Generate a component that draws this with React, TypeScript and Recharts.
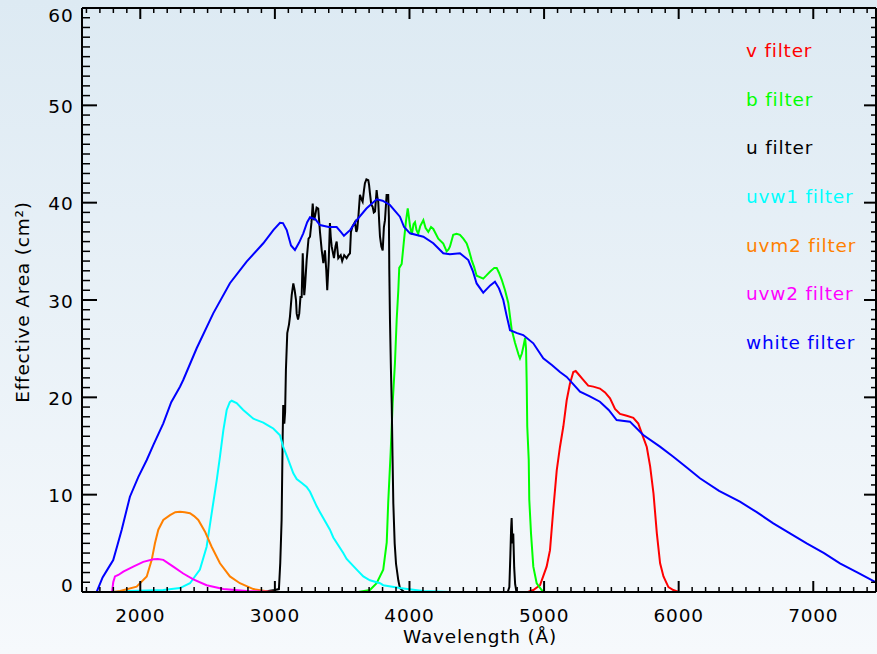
import React from 'react';
import { LineChart, Line, XAxis, YAxis } from 'recharts';

const W = 877;
const H = 654;
const FONT = '"DejaVu Sans", sans-serif';

type Pt = [number, number];

// Effective area (cm^2) versus wavelength (Å) for each filter
const vFilter: Pt[] = [
  [4880, 0], [4920, 0.2], [4970, 0.7], [5019, 2.6], [5044, 4.3], [5068, 8.4], [5094, 12.5],
  [5118, 14.9], [5143, 17.0], [5168, 19.7], [5192, 21.4], [5217, 22.6], [5235, 22.7], [5254, 22.4],
  [5291, 21.8], [5328, 21.2], [5366, 21.1], [5415, 20.9], [5453, 20.5], [5490, 19.9], [5527, 18.8],
  [5564, 18.3], [5614, 18.1], [5663, 17.9], [5700, 17.3], [5726, 16.3], [5763, 14.9], [5788, 12.9],
  [5813, 10.1], [5838, 6.0], [5862, 2.95], [5887, 1.6], [5924, 0.5], [5960, 0.2], [6000, 0], [6050, 0],
];

const bFilter: Pt[] = [
  [3030, 0], [3620, 0], [3706, 0.2], [3756, 0.9], [3805, 2.3], [3831, 5.1], [3842, 9.2], [3860, 14.3],
  [3875, 19.4], [3892, 23.5], [3905, 28], [3917, 31], [3924, 33.3], [3942, 33.7], [3959, 36.1],
  [3974, 38.1], [3987, 39.4], [3995, 38.6], [4004, 37.6], [4017, 36.7], [4030, 37.8], [4041, 38.0],
  [4052, 37.2], [4065, 36.8], [4080, 37.6], [4103, 38.2], [4120, 37.4], [4140, 37.0], [4160, 37.5],
  [4177, 37.3], [4214, 36.3], [4251, 35.8], [4276, 35.0], [4290, 35.2], [4301, 35.5], [4325, 36.7],
  [4350, 36.8], [4375, 36.7], [4400, 36.3], [4425, 35.8], [4440, 35.2], [4462, 34.1], [4480, 33.4],
  [4499, 32.5], [4548, 32.2], [4570, 32.5], [4598, 32.9], [4630, 33.3], [4648, 33.3], [4665, 32.8],
  [4685, 32.1], [4710, 31], [4734, 29.7], [4759, 27.0], [4784, 25.6], [4810, 24.4], [4821, 24.0],
  [4835, 24.5], [4846, 25.2], [4859, 26.1], [4866, 25], [4871, 21.4], [4875, 17.0], [4886, 13.6],
  [4890, 9.5], [4903, 6.0], [4920, 2.6], [4945, 0.9], [4982, 0.2], [5000, 0], [5050, 0],
];

const uFilter: Pt[] = [
  [2900, 0], [3000, 0.2], [3030, 0.3], [3040, 3], [3050, 7.4], [3058, 16], [3062, 19.2], [3070, 17.3],
  [3076, 18.5], [3082, 22.8], [3092, 26.6], [3105, 27.5], [3112, 28.3], [3125, 30.5], [3137, 31.7],
  [3147, 31.0], [3157, 30.0], [3162, 28.6], [3172, 28.0], [3181, 28.6], [3190, 30.3], [3199, 30.3],
  [3207, 34.8], [3211, 33.0], [3218, 30.5], [3224, 31.4], [3236, 34.1], [3250, 36.3], [3261, 36.5],
  [3272, 38.0], [3281, 39.9], [3290, 38.2], [3298, 38.6], [3310, 39.5], [3322, 39.4], [3335, 37.0],
  [3348, 35.1], [3360, 33.8], [3372, 35.1], [3382, 33.0], [3389, 31.0], [3400, 34.0], [3409, 37.9],
  [3415, 36.5], [3422, 35.5], [3439, 34.3], [3450, 35.5], [3459, 36.0], [3471, 34.3], [3489, 34.6],
  [3500, 34.0], [3515, 34.6], [3533, 34.3], [3545, 34.6], [3558, 34.8], [3565, 37.0], [3575, 37.5],
  [3595, 38.0], [3605, 37.0], [3612, 37.3], [3620, 38.5], [3632, 40.8], [3642, 40.4], [3652, 40.1],
  [3662, 41.3], [3669, 42.0], [3680, 42.4], [3694, 42.3], [3700, 41.8], [3706, 41.0], [3716, 39.8],
  [3726, 39.6], [3735, 39.0], [3744, 39.1], [3756, 41.3], [3762, 40.5], [3768, 40.1], [3775, 38.0],
  [3781, 36.5], [3791, 35.5], [3801, 35.1], [3810, 37.5], [3818, 38.2], [3830, 40.8], [3842, 40.8],
  [3847, 38.5], [3850, 33.1], [3855, 28.0], [3862, 23], [3868, 19.4], [3874, 14], [3880, 9.1],
  [3890, 5], [3900, 2.9], [3917, 1.2], [3929, 0.4], [3960, 0], [4730, 0], [4742, 0.5], [4750, 4.0],
  [4755, 6.5], [4759, 7.6], [4765, 5.0], [4771, 6.0], [4778, 2.5], [4785, 0.8], [4795, 0], [5000, 0],
];

const uvw1Filter: Pt[] = [
  [1800, 0], [1923, 0.1], [2171, 0.2], [2295, 0.4], [2369, 0.9], [2443, 2.3], [2493, 4.65],
  [2530, 8.05], [2568, 11.5], [2592, 13.9], [2617, 16.6], [2642, 18.7], [2665, 19.5], [2679, 19.65],
  [2716, 19.4], [2765, 18.7], [2840, 17.8], [2914, 17.4], [2964, 17.0], [2988, 16.8], [3038, 16.1],
  [3062, 14.9], [3088, 14.0], [3137, 12.2], [3162, 11.6], [3200, 11.2], [3236, 10.8], [3261, 10.3],
  [3311, 8.8], [3335, 8.2], [3409, 6.4], [3434, 5.6], [3508, 4.0], [3533, 3.4], [3608, 2.3],
  [3657, 1.6], [3706, 1.2], [3781, 0.9], [3805, 0.7], [3929, 0.4], [4100, 0.1], [4300, 0],
];

const uvm2Filter: Pt[] = [
  [1800, 0], [1850, 0.1], [1973, 0.55], [2048, 1.6], [2085, 3.3], [2109, 5.0], [2134, 6.4],
  [2171, 7.4], [2221, 7.9], [2260, 8.2], [2295, 8.25], [2330, 8.2], [2369, 8.1], [2400, 7.8],
  [2431, 7.4], [2481, 6.2], [2530, 4.65], [2592, 2.95], [2666, 1.6], [2740, 0.9], [2840, 0.3],
  [2950, 0.05], [3000, 0],
];

const uvw2Filter: Pt[] = [
  [1790, 0], [1799, 1.0], [1812, 1.6], [1837, 1.75], [1874, 2.1], [1948, 2.6], [2022, 3.1],
  [2097, 3.36], [2131, 3.4], [2171, 3.3], [2245, 2.6], [2319, 1.9], [2394, 1.3], [2493, 0.7],
  [2617, 0.3], [2790, 0.1], [3000, 0], [7466, 0],
];

const whiteFilter: Pt[] = [
  [1567, 0], [1676, 0], [1720, 1.5], [1760, 2.4], [1799, 3.29], [1830, 4.8], [1862, 6.4], [1923, 9.79],
  [1985, 11.8], [2048, 13.56], [2100, 15.2], [2171, 17.33], [2230, 19.5], [2295, 21.09], [2319, 21.78],
  [2419, 25.04], [2542, 28.63], [2666, 31.72], [2790, 33.94], [2914, 35.83], [2990, 37.2], [3038, 37.94],
  [3060, 37.9], [3088, 37.19], [3120, 35.6], [3149, 35.14], [3180, 35.9], [3211, 36.85],
  [3240, 38.0], [3261, 38.5], [3300, 38.3], [3335, 37.7], [3400, 37.5], [3459, 37.5], [3490, 37.0],
  [3513, 36.6], [3560, 37.2], [3608, 38.2], [3680, 39.4], [3756, 40.35], [3800, 40.2], [3855, 39.76],
  [3929, 38.56], [3960, 37.5], [4004, 36.85], [4103, 36.5], [4177, 35.83], [4251, 34.8], [4300, 34.7],
  [4375, 34.8], [4437, 34.1], [4470, 33], [4499, 31.7], [4548, 30.75], [4600, 31.5], [4635, 31.88],
  [4665, 31.2], [4697, 30.0], [4720, 28.5], [4747, 26.9], [4800, 26.6], [4845, 26.4], [4920, 25.55],
  [4994, 24.0], [5060, 23.3], [5118, 22.6], [5168, 22.1], [5267, 20.58], [5340, 20.1], [5415, 19.55],
  [5480, 18.7], [5539, 17.67], [5638, 17.5], [5737, 16.13], [5861, 14.93], [5960, 13.9], [6060, 12.8],
  [6158, 11.68], [6300, 10.4], [6455, 9.28], [6580, 8.2], [6703, 7.06], [6830, 6.0], [6951, 5.0],
  [7080, 4.0], [7198, 2.95], [7330, 2.0], [7466, 1.0],
];

const filterNames = ['v filter', 'b filter', 'u filter', 'uvw1 filter', 'uvm2 filter', 'uvw2 filter', 'white filter'];
const filterColors = ['#ff0000', '#00ff00', '#000000', '#00ffff', '#ff8000', '#ff00ff', '#0000ff'];
const filterPoints = [vFilter, bFilter, uFilter, uvw1Filter, uvm2Filter, uvw2Filter, whiteFilter];

const xDomain: [number, number] = [1567, 7466];
const yDomain: [number, number] = [0, 60];
const xMajorTicks = [2000, 3000, 4000, 5000, 6000, 7000];
const yMajorTicks = [0, 10, 20, 30, 40, 50, 60];

const xTicks: number[] = [];
for (let w = 1600; w <= 7400; w += 100) xTicks.push(w);
const yTicks: number[] = [];
for (let a = 0; a <= 60; a += 1) yTicks.push(a);

const textStyle = { fontFamily: FONT, fontSize: 18.5, letterSpacing: 0.8 };

const BottomTick = (props: any) => {
  const { x, y, payload } = props;
  const major = xMajorTicks.includes(payload.value);
  return (
    <g>
      <line x1={x} x2={x} y1={y} y2={y - (major ? 11 : 5)} stroke="#000" strokeWidth={major ? 2 : 1.5} />
      {major && (
        <text x={x} y={y + 30} textAnchor="middle" fill="#000" style={textStyle}>
          {payload.value}
        </text>
      )}
    </g>
  );
};

const TopTick = (props: any) => {
  const { x, y, payload } = props;
  const major = xMajorTicks.includes(payload.value);
  return <line x1={x} x2={x} y1={y} y2={y + (major ? 11 : 5)} stroke="#000" strokeWidth={major ? 2 : 1.5} />;
};

const LeftTick = (props: any) => {
  const { x, y, payload } = props;
  const v = payload.value;
  const major = yMajorTicks.includes(v);
  const dy = v === 0 ? -0.5 : v === 60 ? 13.5 : 7.5;
  return (
    <g>
      <line x1={x} x2={x + (major ? 15 : 8)} y1={y} y2={y} stroke="#000" strokeWidth={major ? 2 : 1.5} />
      {major && (
        <text x={x - 8.5} y={y + dy} textAnchor="end" fill="#000" style={textStyle}>
          {v}
        </text>
      )}
    </g>
  );
};

const RightTick = (props: any) => {
  const { x, y, payload } = props;
  const major = yMajorTicks.includes(payload.value);
  return <line x1={x} x2={x - (major ? 12 : 5)} y1={y} y2={y} stroke="#000" strokeWidth={major ? 2 : 1.5} />;
};

const legendBaselines = [56.7, 106, 154.3, 202.7, 251.7, 300, 349.3];

export default function App() {
  return (
    <div
      style={{
        width: W,
        height: H,
        background: 'linear-gradient(to bottom, rgb(221,234,243) 0%, rgb(246,249,252) 100%)',
      }}
    >
      <style>{'body{margin:0}'}</style>
      <LineChart width={W} height={H} margin={{ top: 7, right: 0, bottom: 0, left: 0 }}>
        <XAxis
          xAxisId="b"
          dataKey="w"
          type="number"
          domain={xDomain}
          allowDataOverflow
          ticks={xTicks}
          interval={0}
          height={62}
          tickSize={0}
          tickMargin={0}
          tick={<BottomTick />}
          axisLine={{ stroke: '#000', strokeWidth: 2 }}
          tickLine={false}
        />
        <XAxis
          xAxisId="t"
          orientation="top"
          dataKey="w"
          type="number"
          domain={xDomain}
          allowDataOverflow
          ticks={xTicks}
          interval={0}
          height={1}
          tickSize={0}
          tickMargin={0}
          tick={<TopTick />}
          axisLine={{ stroke: '#000', strokeWidth: 2 }}
          tickLine={false}
        />
        <YAxis
          yAxisId="l"
          type="number"
          domain={yDomain}
          allowDataOverflow
          ticks={yTicks}
          interval={0}
          width={82}
          tickSize={0}
          tickMargin={0}
          tick={<LeftTick />}
          axisLine={{ stroke: '#000', strokeWidth: 2 }}
          tickLine={false}
        />
        <YAxis
          yAxisId="r"
          orientation="right"
          type="number"
          domain={yDomain}
          allowDataOverflow
          ticks={yTicks}
          interval={0}
          width={1}
          tickSize={0}
          tickMargin={0}
          tick={<RightTick />}
          axisLine={{ stroke: '#000', strokeWidth: 2 }}
          tickLine={false}
        />
        {filterPoints.map((pts, i) => (
          <Line
            key={filterNames[i]}
            name={filterNames[i]}
            xAxisId="b"
            yAxisId="l"
            data={pts.map(([w, a]) => ({ w, a }))}
            dataKey="a"
            type="linear"
            dot={false}
            activeDot={false}
            stroke={filterColors[i]}
            strokeWidth={2}
            isAnimationActive={false}
          />
        ))}
        <g>
          {filterNames.map((n, i) => (
            <text key={n} x={746} y={legendBaselines[i]} fill={filterColors[i]} style={textStyle}>
              {n}
            </text>
          ))}
          <text x={480} y={643} textAnchor="middle" fill="#000" style={textStyle}>
            Wavelength (Å)
          </text>
          <text transform="translate(29,302) rotate(-90)" textAnchor="middle" fill="#000" style={textStyle}>
            Effective Area (cm²)
          </text>
        </g>
      </LineChart>
    </div>
  );
}
